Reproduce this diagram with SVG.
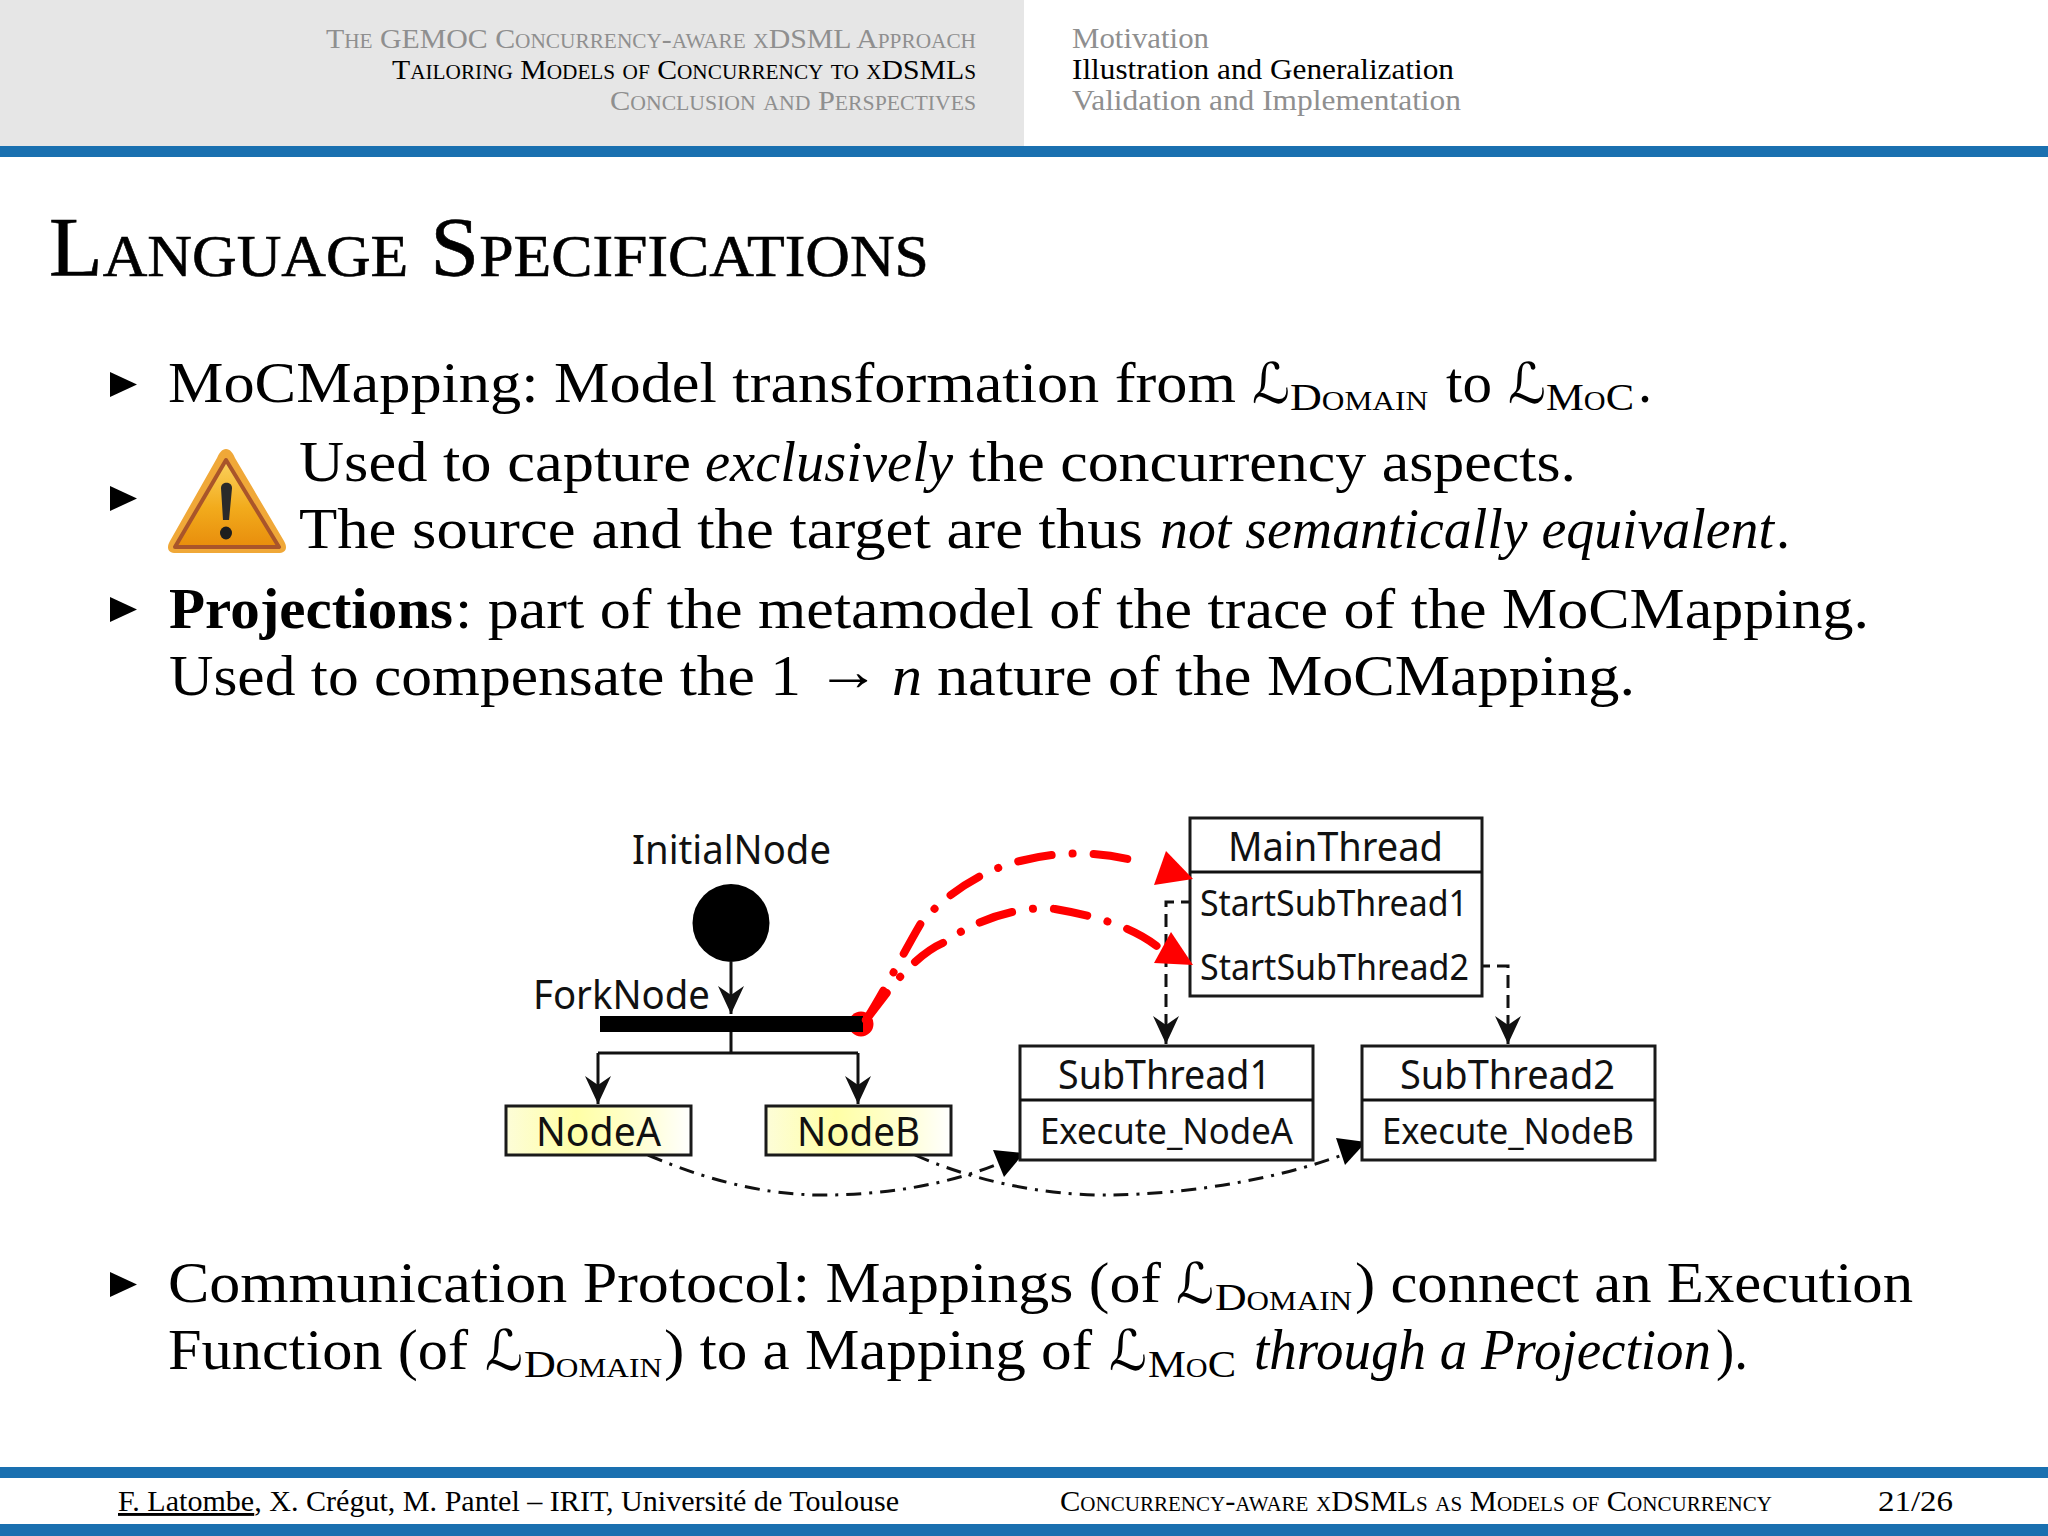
<svg xmlns="http://www.w3.org/2000/svg" width="2048" height="1536" viewBox="0 0 2048 1536">
<defs>
<style>
text{font-family:"Liberation Serif",serif;fill:#000}
.b{font-size:56px}
.i{font-style:italic}
.sub{font-size:38px;font-variant:small-caps}
.cal{font-family:"DejaVu Sans","Liberation Serif",sans-serif;font-size:56px;font-style:italic}
.h{font-size:28px;font-variant:small-caps}
.r{font-size:29px}
.g{fill:#8f8f8f}
.f{font-size:29px}
.d{font-family:"Noto Sans","Open Sans",sans-serif;font-size:40px;fill:#111}
.m{font-size:36.500px}
.box{fill:#fff;stroke:#1a1a1a;stroke-width:3}
.yel{fill:url(#yg);stroke:#1a1a1a;stroke-width:3}
.ln{fill:none;stroke:#111;stroke-width:3}
.dash{fill:none;stroke:#111;stroke-width:3;stroke-dasharray:13 7}
.dd{fill:none;stroke:#111;stroke-width:3;stroke-dasharray:15 8 3 8}
.red{fill:none;stroke:#f00;stroke-width:8;stroke-linecap:round;stroke-dasharray:34 21 .1 21}
</style>
<linearGradient id="yg" x1="0" x2="1" y1="0" y2="0"><stop offset="0" stop-color="#fdfdd8"/><stop offset=".38" stop-color="#ffffa6"/><stop offset=".72" stop-color="#ffffd0"/><stop offset="1" stop-color="#fff"/></linearGradient>
<linearGradient id="wg" x1="0" x2="0" y1="0" y2="1"><stop offset="0" stop-color="#fbd25e"/><stop offset=".55" stop-color="#f2ab1c"/><stop offset="1" stop-color="#e88d0c"/></linearGradient>
<marker id="ah" markerUnits="userSpaceOnUse" markerWidth="30" markerHeight="28" refX="28" refY="13" orient="auto"><path d="M0 0L28 13L0 26L9 13Z" fill="#111"/></marker>
</defs>
<rect width="2048" height="1536" fill="#fff"/>
<g id="header">
<rect width="1024" height="146" fill="#e6e6e6"/>
<rect y="146" width="2048" height="11" fill="#1a70b0"/>
<text class="h g" x="326" y="48" textLength="650" lengthAdjust="spacingAndGlyphs">The GEMOC Concurrency-aware xDSML Approach</text>
<text class="h" x="392" y="79" textLength="584" lengthAdjust="spacingAndGlyphs">Tailoring Models of Concurrency to xDSMLs</text>
<text class="h g" x="610" y="110" textLength="366" lengthAdjust="spacingAndGlyphs">Conclusion and Perspectives</text>
<text class="r g" x="1072" y="48" textLength="137" lengthAdjust="spacingAndGlyphs">Motivation</text>
<text class="r" x="1072" y="79" textLength="382" lengthAdjust="spacingAndGlyphs">Illustration and Generalization</text>
<text class="r g" x="1072" y="110" textLength="389" lengthAdjust="spacingAndGlyphs">Validation and Implementation</text>
</g>
<text x="49" y="276" font-size="84" font-variant="small-caps" stroke="#000" stroke-width=".6" textLength="880" lengthAdjust="spacingAndGlyphs">Language Specifications</text>
<g id="bullets" fill="#000">
<polygon points="110,372 137,384.500 110,397"/>
<polygon points="110,486 137,498.500 110,511"/>
<polygon points="110,597 137,609.500 110,622"/>
<polygon points="110,1272 137,1284.500 110,1297"/>
</g>
<g id="body">
<text class="b" x="168" y="402" textLength="1068" lengthAdjust="spacingAndGlyphs">MoCMapping: Model transformation from</text>
<text class="cal" x="1252" y="403" textLength="38" lengthAdjust="spacingAndGlyphs">ℒ</text>
<text class="sub" x="1290" y="410" textLength="138" lengthAdjust="spacingAndGlyphs">Domain</text>
<text class="b" x="1446" y="402" textLength="46" lengthAdjust="spacingAndGlyphs">to</text>
<text class="cal" x="1508" y="403" textLength="38" lengthAdjust="spacingAndGlyphs">ℒ</text>
<text class="sub" x="1546" y="410" textLength="88" lengthAdjust="spacingAndGlyphs">MoC</text>
<text class="b" x="1638" y="402">.</text>
<text class="b" x="299" y="481" textLength="392" lengthAdjust="spacingAndGlyphs">Used to capture</text>
<text class="b i" x="705" y="481" textLength="248" lengthAdjust="spacingAndGlyphs">exclusively</text>
<text class="b" x="969" y="481" textLength="607" lengthAdjust="spacingAndGlyphs">the concurrency aspects.</text>
<text class="b" x="299" y="548" textLength="844" lengthAdjust="spacingAndGlyphs">The source and the target are thus</text>
<text class="b i" x="1160" y="548" textLength="614" lengthAdjust="spacingAndGlyphs">not semantically equivalent</text>
<text class="b" x="1776" y="548">.</text>
<text class="b" x="169" y="628" font-weight="bold" textLength="284" lengthAdjust="spacingAndGlyphs">Projections</text>
<text class="b" x="455" y="628" textLength="1414" lengthAdjust="spacingAndGlyphs">: part of the metamodel of the trace of the MoCMapping.</text>
<text class="b" x="169" y="695" textLength="632" lengthAdjust="spacingAndGlyphs">Used to compensate the 1</text>
<text class="b" x="816" y="690" textLength="64" lengthAdjust="spacingAndGlyphs">→</text>
<text class="b i" x="892" y="695" textLength="30" lengthAdjust="spacingAndGlyphs">n</text>
<text class="b" x="937" y="695" textLength="698" lengthAdjust="spacingAndGlyphs">nature of the MoCMapping.</text>
<text class="b" x="168" y="1302" textLength="993" lengthAdjust="spacingAndGlyphs">Communication Protocol: Mappings (of</text>
<text class="cal" x="1176" y="1303" textLength="38" lengthAdjust="spacingAndGlyphs">ℒ</text>
<text class="sub" x="1215" y="1310" textLength="137" lengthAdjust="spacingAndGlyphs">Domain</text>
<text class="b" x="1355" y="1302" textLength="558" lengthAdjust="spacingAndGlyphs">) connect an Execution</text>
<text class="b" x="168" y="1369" textLength="300" lengthAdjust="spacingAndGlyphs">Function (of</text>
<text class="cal" x="485" y="1370" textLength="38" lengthAdjust="spacingAndGlyphs">ℒ</text>
<text class="sub" x="524" y="1377" textLength="138" lengthAdjust="spacingAndGlyphs">Domain</text>
<text class="b" x="664" y="1369" textLength="428" lengthAdjust="spacingAndGlyphs">) to a Mapping of</text>
<text class="cal" x="1109" y="1370" textLength="38" lengthAdjust="spacingAndGlyphs">ℒ</text>
<text class="sub" x="1148" y="1377" textLength="88" lengthAdjust="spacingAndGlyphs">MoC</text>
<text class="b i" x="1254" y="1369" textLength="457" lengthAdjust="spacingAndGlyphs">through a Projection</text>
<text class="b" x="1716" y="1369" textLength="32" lengthAdjust="spacingAndGlyphs">).</text>
</g>
<g id="warning">
<path d="M226 449C230 449 233 453 235 458L284 541C288 548 286 553 278 553H176C168 553 166 548 170 541L217 458C219 453 222 449 226 449Z" fill="#f0a838"/>
<path d="M226 460L279 547H175Z" fill="url(#wg)" stroke="#a9552a" stroke-width="4" stroke-linejoin="round"/>
<path d="M221 488C221 481 232 481 232 488L229 520H223Z" fill="#2a2a2a"/>
<ellipse cx="226" cy="533" rx="6" ry="6.500" fill="#1e1e1e"/>
</g>
<g id="connectors">
<path class="ln" d="M731 962V1014" marker-end="url(#ah)"/>
<path class="ln" d="M731 1032V1053M598 1053H858"/>
<path class="ln" d="M598 1053V1104" marker-end="url(#ah)"/>
<path class="ln" d="M858 1053V1104" marker-end="url(#ah)"/>
<path class="dash" d="M1194 902H1166V1044" marker-end="url(#ah)"/>
<path class="dash" d="M1477 966H1508V1044" marker-end="url(#ah)"/>
<path class="dd" d="M648 1155C720 1186 780 1196 830 1195C890 1194 950 1184 1000 1163"/>
<polygon points="1024,1153 993,1150 1004,1177" fill="#000"/>
<path class="dd" d="M915 1155C985 1186 1060 1196 1113 1195C1180 1194 1270 1182 1345 1154"/>
<polygon points="1366,1142 1336,1138 1345,1165" fill="#000"/>
</g>
<g id="InitialNode">
<text class="d" x="632" y="864" textLength="199" lengthAdjust="spacingAndGlyphs">InitialNode</text>
<ellipse cx="731" cy="923" rx="38.500" ry="39" fill="#000"/>
</g>
<g id="ForkNode">
<text class="d" x="533" y="1009" textLength="177" lengthAdjust="spacingAndGlyphs">ForkNode</text>
<circle cx="861" cy="1024" r="12.500" fill="#f00"/>
<rect x="600" y="1016" width="263" height="16" fill="#000"/>
</g>
<g id="NodeA">
<rect class="yel" x="506" y="1106" width="185" height="49"/>
<text class="d" x="536" y="1146" textLength="125" lengthAdjust="spacingAndGlyphs">NodeA</text>
</g>
<g id="NodeB">
<rect class="yel" x="766" y="1106" width="185" height="49"/>
<text class="d" x="797" y="1146" textLength="123" lengthAdjust="spacingAndGlyphs">NodeB</text>
</g>
<g id="MainThread">
<rect class="box" x="1190" y="818" width="292" height="178"/>
<path class="ln" d="M1190 872H1482"/>
<text class="d" x="1228" y="861" textLength="215" lengthAdjust="spacingAndGlyphs">MainThread</text>
<text class="d m" x="1200" y="916" textLength="268" lengthAdjust="spacingAndGlyphs">StartSubThread1</text>
<text class="d m" x="1200" y="980" textLength="269" lengthAdjust="spacingAndGlyphs">StartSubThread2</text>
</g>
<g id="SubThread1">
<rect class="box" x="1020" y="1046" width="293" height="114"/>
<path class="ln" d="M1020 1100H1313"/>
<text class="d" x="1058" y="1089" textLength="213" lengthAdjust="spacingAndGlyphs">SubThread1</text>
<text class="d m" x="1040" y="1144" textLength="253" lengthAdjust="spacingAndGlyphs">Execute_NodeA</text>
</g>
<g id="SubThread2">
<rect class="box" x="1362" y="1046" width="293" height="114"/>
<path class="ln" d="M1362 1100H1655"/>
<text class="d" x="1400" y="1089" textLength="215" lengthAdjust="spacingAndGlyphs">SubThread2</text>
<text class="d m" x="1382" y="1144" textLength="252" lengthAdjust="spacingAndGlyphs">Execute_NodeB</text>
</g>
<g id="projections">
<path class="red" d="M866 1020C885 990 905 950 921 923C945 895 982 870 1020 861C1060 851 1100 850 1147 864"/>
<polygon points="1193,879 1166,851 1154,885" fill="#f00"/>
<path class="red" d="M866 1020L889 990C905 970 925 950 945 942C975 920 1020 905 1055 909C1090 915 1130 925 1158 947"/>
<polygon points="1193,965 1171,932 1154,963" fill="#f00"/>
</g>
<g id="footer">
<rect y="1467" width="2048" height="11" fill="#1a70b0"/>
<rect y="1524" width="2048" height="12" fill="#1a70b0"/>
<text class="f" x="118" y="1511" textLength="781" lengthAdjust="spacingAndGlyphs"><tspan text-decoration="underline">F. Latombe</tspan>, X. Crégut, M. Pantel – IRIT, Université de Toulouse</text>
<text class="f" x="1060" y="1511" font-variant="small-caps" textLength="712" lengthAdjust="spacingAndGlyphs">Concurrency-aware xDSMLs as Models of Concurrency</text>
<text class="f" x="1878" y="1511" textLength="75" lengthAdjust="spacingAndGlyphs">21/26</text>
</g>
</svg>
